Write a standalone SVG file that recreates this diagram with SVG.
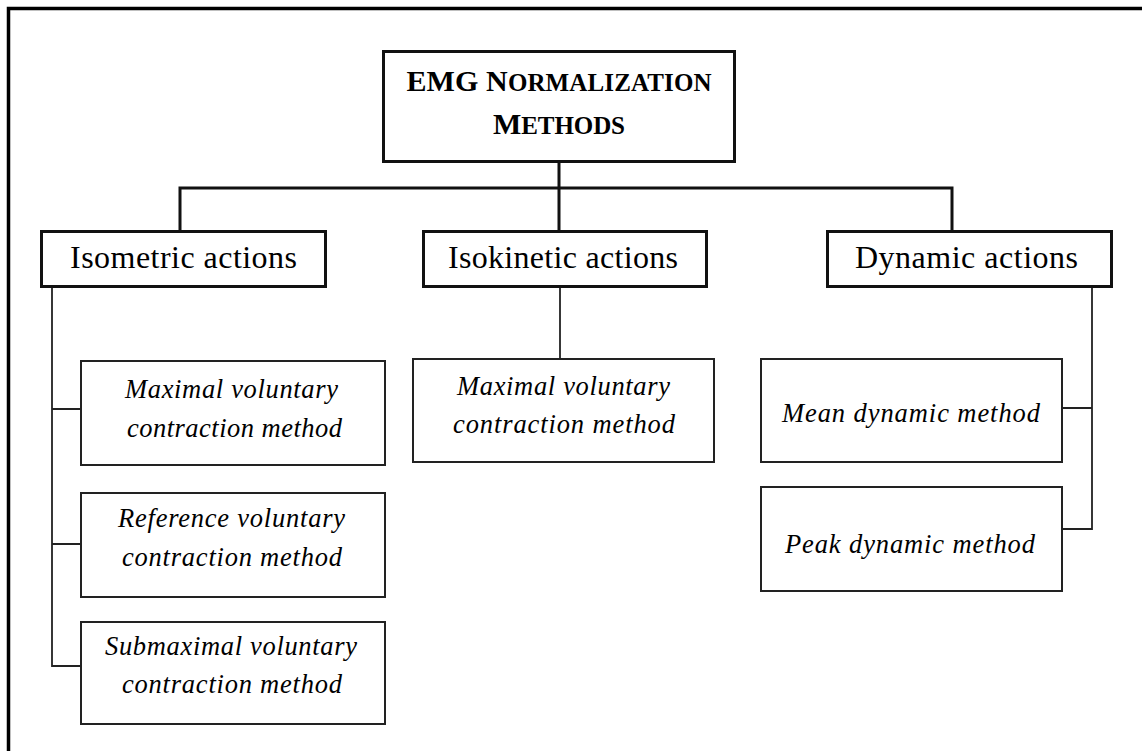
<svg xmlns="http://www.w3.org/2000/svg" width="1142" height="751" viewBox="0 0 1142 751">
<style>
.frame{fill:none;stroke:#000;stroke-width:3.5}
.b1{fill:#fff;stroke:#111;stroke-width:3}
.b2{fill:#fff;stroke:#222;stroke-width:2}
.c1{fill:none;stroke:#111;stroke-width:3}
.c2{fill:none;stroke:#222;stroke-width:1.8}
.t0{font-family:"Liberation Serif","Times New Roman",serif;font-weight:bold;fill:#000;text-anchor:middle}
.t1{font-family:"Liberation Serif","Times New Roman",serif;font-size:32px;fill:#000}
.t2{font-family:"Liberation Serif","Times New Roman",serif;font-style:italic;font-size:26.5px;fill:#000}
</style>
<rect width="1142" height="751" fill="#fff"/>
<path class="frame" d="M8.5,751 V8.5 H1142"/>
<g id="connectors">
<path class="c1" d="M559,162 V230 M180,230 V188 H952 V230"/>
<path class="c2" d="M52,287 V666 H80 M52,409 H80 M52,544 H80"/>
<path class="c2" d="M560,287 V358"/>
<path class="c2" d="M1092,287 V529 H1062 M1062,408 H1092"/>
</g>
<g id="root">
<rect class="b1" x="383.5" y="51.5" width="351" height="110"/>
<text class="t0" x="559" y="91" textLength="305" lengthAdjust="spacing"><tspan font-size="30">EMG N</tspan><tspan font-size="25">ORMALIZATION</tspan></text>
<text class="t0" x="559" y="134" textLength="132" lengthAdjust="spacing"><tspan font-size="30">M</tspan><tspan font-size="25">ETHODS</tspan></text>
</g>
<g id="isometric">
<rect class="b1" x="41.5" y="231.5" width="284" height="55"/>
<text class="t1" x="70" y="268" textLength="227" lengthAdjust="spacing">Isometric actions</text>
</g>
<g id="isokinetic">
<rect class="b1" x="423.5" y="231.5" width="283" height="55"/>
<text class="t1" x="448" y="268" textLength="230" lengthAdjust="spacing">Isokinetic actions</text>
</g>
<g id="dynamic">
<rect class="b1" x="827.5" y="231.5" width="284" height="55"/>
<text class="t1" x="855" y="268" textLength="223" lengthAdjust="spacing">Dynamic actions</text>
</g>
<g id="iso-mvc">
<rect class="b2" x="81" y="361" width="304" height="104"/>
<text class="t2" x="125" y="398" textLength="213" lengthAdjust="spacing">Maximal voluntary</text>
<text class="t2" x="127" y="437" textLength="215" lengthAdjust="spacing">contraction method</text>
</g>
<g id="iso-rvc">
<rect class="b2" x="81" y="493" width="304" height="104"/>
<text class="t2" x="118" y="527" textLength="227" lengthAdjust="spacing">Reference voluntary</text>
<text class="t2" x="122" y="566" textLength="220" lengthAdjust="spacing">contraction method</text>
</g>
<g id="iso-smvc">
<rect class="b2" x="81" y="622" width="304" height="102"/>
<text class="t2" x="105" y="655" textLength="252" lengthAdjust="spacing">Submaximal voluntary</text>
<text class="t2" x="122" y="693" textLength="220" lengthAdjust="spacing">contraction method</text>
</g>
<g id="isok-mvc">
<rect class="b2" x="413" y="359" width="301" height="103"/>
<text class="t2" x="457" y="395" textLength="213" lengthAdjust="spacing">Maximal voluntary</text>
<text class="t2" x="453" y="433" textLength="222" lengthAdjust="spacing">contraction method</text>
</g>
<g id="dyn-mean">
<rect class="b2" x="761" y="359" width="301" height="103"/>
<text class="t2" x="782" y="422" textLength="258" lengthAdjust="spacing">Mean dynamic method</text>
</g>
<g id="dyn-peak">
<rect class="b2" x="761" y="487" width="301" height="104"/>
<text class="t2" x="785" y="553" textLength="250" lengthAdjust="spacing">Peak dynamic method</text>
</g>
</svg>
